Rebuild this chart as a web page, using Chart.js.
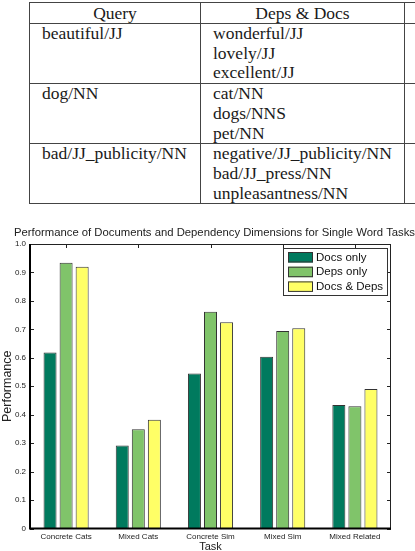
<!DOCTYPE html>
<html>
<head>
<meta charset="utf-8">
<script src="https://cdn.jsdelivr.net/npm/chart.js@4.4.1/dist/chart.umd.min.js"></script>
<style>
  html, body { margin: 0; padding: 0; background: #fff; }
  body { width: 415px; height: 551px; overflow: hidden; position: relative; }
  #tbl {
    position: absolute; left: 29px; top: 2px;
    border-collapse: collapse; table-layout: fixed; width: 440px;
    font-family: "Liberation Serif", "Times New Roman", serif;
    font-size: 17.5px; color: #1a1a1a;
  }
  #tbl td, #tbl th {
    border: 1px solid #444; padding: 0 0 0 12px;
    vertical-align: top; line-height: 19.7px; font-weight: normal;
    white-space: nowrap; overflow: hidden;
  }
  #tbl th { text-align: center; padding: 0; height: 20px; line-height: 20px; }
  #tbl td { height: 59px; }
  #wrap { position: absolute; left: 0; top: 205px; width: 415px; height: 346px; }
</style>
</head>
<body>
<table id="tbl">
  <colgroup><col style="width:171px"><col style="width:204px"><col style="width:65px"></colgroup>
  <thead><tr><th>Query</th><th>Deps &amp; Docs</th><th></th></tr></thead>
  <tbody id="tbody"></tbody>
</table>
<div id="wrap"><canvas id="perfChart"></canvas></div>
<script>
// table content
const queries = ['beautiful/JJ', 'dog/NN', 'bad/JJ_publicity/NN'];
const neighbours = [
  ['wonderful/JJ', 'lovely/JJ', 'excellent/JJ'],
  ['cat/NN', 'dogs/NNS', 'pet/NN'],
  ['negative/JJ_publicity/NN', 'bad/JJ_press/NN', 'unpleasantness/NN']
];

// chart data
const chartTitle = 'Performance of Documents and Dependency Dimensions for Single Word Tasks';
const tasks = ['Concrete Cats', 'Mixed Cats', 'Concrete Sim', 'Mixed Sim', 'Mixed Related'];
const docsOnly = [0.619, 0.292, 0.545, 0.604, 0.434];
const depsOnly = [0.934, 0.349, 0.762, 0.694, 0.430];
const docsAndDeps = [0.920, 0.382, 0.725, 0.704, 0.490];
const yTicks = [0, 0.1, 0.2, 0.3, 0.4, 0.5, 0.6, 0.7, 0.8, 0.9, 1];

const tbody = document.getElementById('tbody');
queries.forEach((q, i) => {
  const tr = document.createElement('tr');
  const a = document.createElement('td');
  a.textContent = q;
  const b = document.createElement('td');
  b.innerHTML = neighbours[i].join('<br>');
  const c = document.createElement('td');
  tr.append(a, b, c);
  tbody.appendChild(tr);
});

const FONT = '"Liberation Sans", Arial, Helvetica, sans-serif';

// title is wider than the canvas in the original, so draw it unsqueezed
const titlePlugin = {
  id: 'wideTitle',
  afterDraw(chart) {
    const {ctx, chartArea: a} = chart;
    ctx.save();
    ctx.font = '11.3px ' + FONT;
    ctx.fillStyle = '#222';
    ctx.textAlign = 'left';
    ctx.textBaseline = 'middle';
    ctx.fillText(chartTitle, 14, a.top - 11);
    ctx.restore();
  }
};

// MATLAB-like box: thick left/bottom axes, thin top/right, inward ticks
const boxPlugin = {
  id: 'box',
  afterDatasetsDraw(chart) {
    const {ctx, chartArea: a, scales: {x, y}} = chart;
    ctx.save();
    ctx.strokeStyle = '#222';
    ctx.lineWidth = 1;
    ctx.beginPath();
    ctx.moveTo(a.left, a.top + 0.5);
    ctx.lineTo(a.right, a.top + 0.5);
    ctx.moveTo(a.right - 0.5, a.top);
    ctx.lineTo(a.right - 0.5, a.bottom);
    yTicks.forEach(v => {
      const py = Math.round(y.getPixelForValue(v)) + 0.5;
      ctx.moveTo(a.left, py);
      ctx.lineTo(a.left + 4, py);
      ctx.moveTo(a.right - 4, py);
      ctx.lineTo(a.right, py);
    });
    tasks.forEach((t, i) => {
      const px = Math.round(x.getPixelForValue(i)) + 0.5;
      ctx.moveTo(px, a.top);
      ctx.lineTo(px, a.top + 4);
    });
    ctx.stroke();
    ctx.strokeStyle = '#000';
    ctx.lineWidth = 2;
    ctx.beginPath();
    ctx.moveTo(a.left, a.top);
    ctx.lineTo(a.left, a.bottom);
    ctx.lineTo(a.right, a.bottom);
    ctx.stroke();
    ctx.restore();
  }
};

// legend box in the upper right of the plot
const legendBox = {
  id: 'legendBox',
  afterDraw(chart) {
    const {ctx, chartArea: a} = chart;
    const w = 104, h = 47;
    const left = a.right - 4 - w, top = a.top + 4;
    ctx.save();
    ctx.fillStyle = '#fff';
    ctx.fillRect(left, top, w, h);
    ctx.strokeStyle = '#333';
    ctx.lineWidth = 1;
    ctx.strokeRect(left + 0.5, top + 0.5, w, h);
    ctx.font = '11.5px ' + FONT;
    ctx.textBaseline = 'middle';
    chart.data.datasets.forEach((ds, i) => {
      const cy = top + 9 + i * 14.7;
      ctx.fillStyle = ds.backgroundColor;
      ctx.fillRect(left + 5, cy - 5, 25, 10.5);
      ctx.strokeStyle = '#333';
      ctx.strokeRect(left + 5.5, cy - 4.5, 24, 9.5);
      ctx.fillStyle = '#111';
      ctx.fillText(ds.label, left + 33, cy + 0.5);
    });
    ctx.restore();
  }
};

function initChart() {
  const ctx = document.getElementById('perfChart');
  new Chart(ctx, {
    type: 'bar',
    data: {
      labels: tasks,
      datasets: [
        {label: 'Docs only', data: docsOnly, backgroundColor: '#007a5e'},
        {label: 'Deps only', data: depsOnly, backgroundColor: '#80c46a'},
        {label: 'Docs & Deps', data: docsAndDeps, backgroundColor: '#ffff66'}
      ]
    },
    options: {
      responsive: true,
      maintainAspectRatio: false,
      animation: false,
      devicePixelRatio: 1,
      layout: {padding: {left: 0, right: 24, top: 39, bottom: 0}},
      datasets: {
        bar: {
          categoryPercentage: 0.667,
          barPercentage: 0.81,
          borderColor: '#333',
          borderWidth: 1
        }
      },
      plugins: {
        legend: {display: false},
        tooltip: {enabled: false},
        title: {display: false}
      },
      scales: {
        x: {
          grid: {display: false, drawTicks: false},
          border: {display: false},
          ticks: {
            color: '#222', padding: 3.5, maxRotation: 0, autoSkip: false,
            font: {family: FONT, size: 8}
          },
          title: {
            display: true, text: 'Task', color: '#222',
            font: {family: FONT, size: 11}, padding: {top: 0, bottom: -2.5}
          },
          afterFit: (scale) => { scale.height = 22.5; }
        },
        y: {
          min: 0,
          max: 1,
          grid: {display: false, drawTicks: false},
          border: {display: false},
          afterBuildTicks: (scale) => { scale.ticks = yTicks.map(v => ({value: v})); },
          ticks: {
            color: '#222', padding: 4,
            font: {family: FONT, size: 8}
          },
          title: {
            display: true, text: 'Performance', color: '#222',
            font: {family: FONT, size: 12.5}, padding: {top: 0, bottom: 0}
          },
          afterFit: (scale) => { scale.width = 30; }
        }
      }
    },
    plugins: [boxPlugin, legendBox, titlePlugin]
  });
}

document.addEventListener('DOMContentLoaded', initChart);
</script>
</body>
</html>
